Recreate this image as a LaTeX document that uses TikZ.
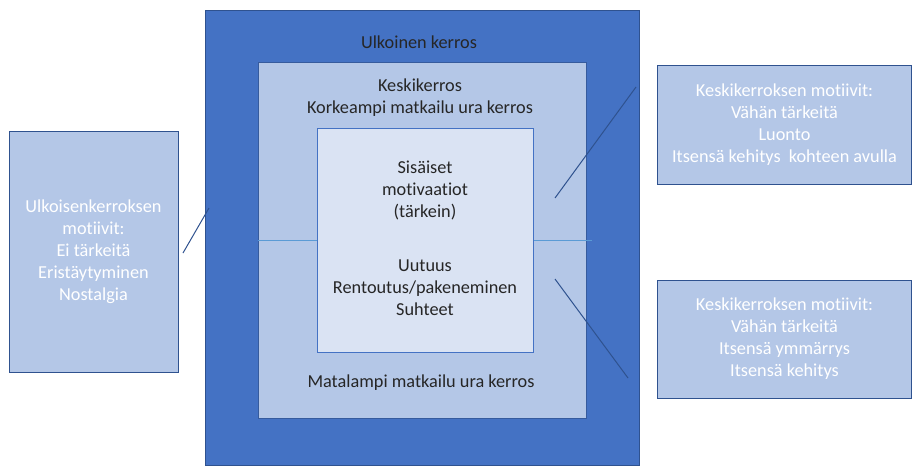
\documentclass[tikz,border=0pt]{standalone}
\usepackage{fontspec}
\setmainfont{Carlito}[Ligatures=NoCommon]
\usetikzlibrary{positioning}
\definecolor{outerblue}{HTML}{4472C4}
\definecolor{midblue}{HTML}{B4C7E7}
\definecolor{innerblue}{HTML}{DAE3F3}
\definecolor{edgeblue}{HTML}{2F528F}
\definecolor{lineblue}{HTML}{5B9BD5}
\definecolor{txtgray}{HTML}{262626}
\tikzset{
  layer/.style={
    shape = rectangle,
    draw = edgeblue,
    line width = 0.75pt,
    inner sep = 0pt
  },
  motive/.style={
    layer,
    fill = midblue,
    text = white,
    align = center
  },
  lbl/.style={
    text = txtgray,
    align = center
  },
  hline/.style={
    draw = lineblue,
    line width = 0.75pt
  },
  pointer/.style={
    draw = edgeblue,
    line width = 0.75pt
  },
  every picture/.style = {
    font=\fontsize{13.7}{16.5}\selectfont
  }
}

\begin{document}
\begin{tikzpicture}[x=0.75pt,y=-0.75pt]
    \useasboundingbox (0,0) rectangle (912,465);
    % layers
    \node[layer, fill=outerblue, minimum width=325.5pt, minimum height=341.25pt] (outer) at (422,237.5) {};
    \node[layer, fill=midblue, draw=outerblue!80!black, minimum width=246pt, minimum height=267pt] (mid) at (422,240) {};
    \node[layer, fill=innerblue, draw=outerblue, minimum width=162pt, minimum height=168pt] (inner) at (425,240) {};
    \node[lbl] (ulk) at (419,42) {Ulkoinen kerros};
    \node[lbl] (kesk) at (420,98) {Keskikerros\\Korkeampi matkailu ura kerros};
    \node[lbl] (sis) at (425,190) {Sisäiset\\motivaatiot\\(tärkein)};
    \node[lbl] (uut) at (425,288) {Uutuus\\Rentoutus/pakeneminen\\Suhteet};
    \node[lbl] (mata) at (421,383) {Matalampi matkailu ura kerros};
    \coordinate (hR) at (592,240);
    \draw[hline] (mid.west) -- (inner.west);
    \draw[hline] (inner.east) -- (hR);
    % motives
    \node[motive, minimum width=126.75pt, minimum height=180.75pt] (ulkmot) at (93.5,251.5)
      {Ulkoisenkerroksen\\motiivit:\\Ei tärkeitä\\Eristäytyminen\\Nostalgia};
    \node[motive, minimum width=190.5pt, minimum height=89.25pt] (keskmotA) at (784.5,124.5)
      {Keskikerroksen motiivit:\\Vähän tärkeitä\\Luonto\\Itsensä kehitys\ \ kohteen avulla};
    \node[motive, minimum width=190.5pt, minimum height=88.5pt] (keskmotB) at (784.5,339)
      {Keskikerroksen motiivit:\\Vähän tärkeitä\\Itsensä ymmärrys\\Itsensä kehitys};
    \coordinate (pL1) at (183,253);
    \coordinate (pL2) at (209,208);
    \coordinate (pA1) at (555,198);
    \coordinate (pA2) at (636,87);
    \coordinate (pB1) at (555,279);
    \coordinate (pB2) at (628,378);
    \draw[pointer] (pL1) -- (pL2);
    \draw[pointer] (pA1) -- (pA2);
    \draw[pointer] (pB1) -- (pB2);
\end{tikzpicture}
\end{document}
